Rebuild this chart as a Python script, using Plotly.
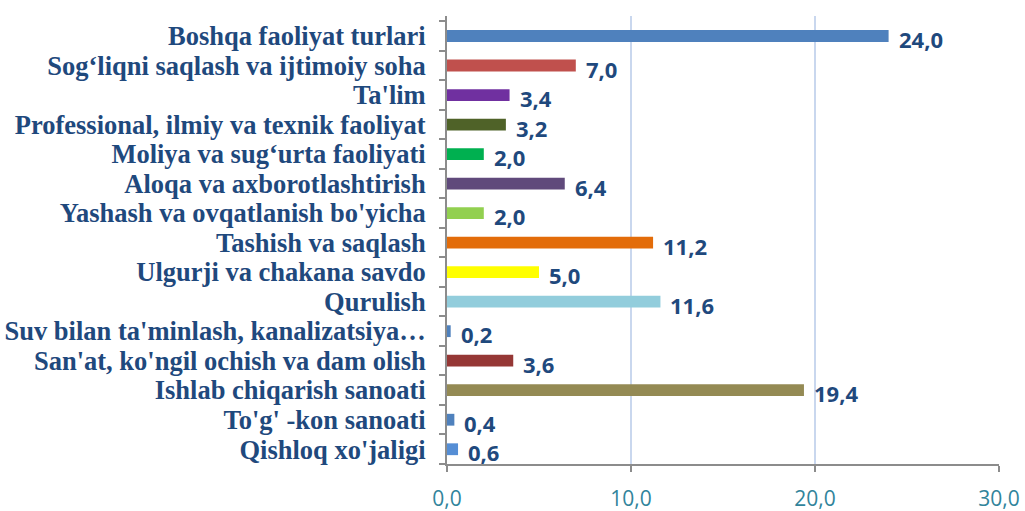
import plotly.graph_objects as go

categories = [
    "Boshqa faoliyat turlari",
    "Sog‘liqni saqlash va ijtimoiy soha",
    "Ta'lim",
    "Professional, ilmiy va texnik faoliyat",
    "Moliya va sug‘urta faoliyati",
    "Aloqa va axborotlashtirish",
    "Yashash va ovqatlanish bo'yicha",
    "Tashish va saqlash",
    "Ulgurji va chakana savdo",
    "Qurulish",
    "Suv bilan ta'minlash, kanalizatsiya…",
    "San'at, ko'ngil ochish va dam olish",
    "Ishlab chiqarish sanoati",
    "To'g' -kon sanoati",
    "Qishloq xo'jaligi",
]
values = [24.0, 7.0, 3.4, 3.2, 2.0, 6.4, 2.0, 11.2, 5.0, 11.6, 0.2, 3.6, 19.4, 0.4, 0.6]
colors = [
    "#4F81BD", "#C0504D", "#7030A0", "#4F6228", "#00B050", "#604A7B", "#92D050",
    "#E36C09", "#FFFF00", "#92CDDC", "#4F81BD", "#953735", "#948A54", "#4F81BD", "#558ED5",
]
x_ticks = [0, 10, 20, 30]
x_tick_labels = ["0,0", "10,0", "20,0", "30,0"]

labels = [f"{v:.1f}".replace(".", ",") for v in values]

fig = go.Figure()
fig.add_trace(go.Bar(
    x=values, y=categories, orientation="h",
    marker=dict(color=colors, line=dict(width=0)),
    width=0.4, hoverinfo="x+y",
))

for c, v, lab in zip(categories, values, labels):
    fig.add_annotation(
        x=v, y=c, text=lab, showarrow=False, xanchor="left", yanchor="middle",
        xshift=8, yshift=-3,
        font=dict(family="Open Sans", size=22, color="#1F497D", weight="bold"),
    )

fig.update_layout(
    width=1025, height=511,
    margin=dict(l=447, r=26, t=16, b=47),
    paper_bgcolor="white", plot_bgcolor="white",
    showlegend=False,
)
fig.update_xaxes(
    range=[0, 30], tickmode="array", tickvals=x_ticks, ticktext=x_tick_labels,
    showgrid=True, gridcolor="#C9D7EE", gridwidth=1.5,
    showline=True, linecolor="#8C8C8C", linewidth=2,
    ticks="outside", ticklen=6, tickcolor="#8C8C8C", tickwidth=2,
    ticklabelstandoff=9, automargin=False,
    tickfont=dict(family="Open Sans", size=21, color="#31849B"),
    zeroline=False,
)
fig.update_yaxes(
    autorange="reversed", tickmode="array", tickvals=categories, ticktext=categories,
    showline=True, linecolor="#8C8C8C", linewidth=2,
    ticks="outside", ticklen=6, tickcolor="#8C8C8C", tickwidth=2,
    tickson="boundaries", showgrid=False,
    ticklabelstandoff=14, automargin=False,
    tickfont=dict(family="Liberation Serif", size=26.5, color="#1F497D", weight="bold"),
)

fig.write_html(
    "out.html",
    config={"displayModeBar": False},
    post_script="document.body.style.margin='0';document.body.style.overflow='hidden';",
)
